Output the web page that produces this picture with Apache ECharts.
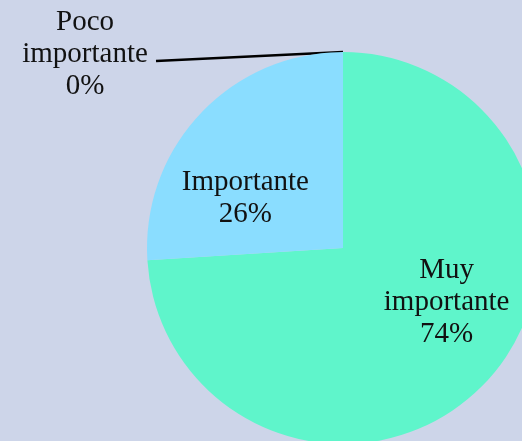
<!DOCTYPE html>
<html>
<head>
<meta charset="utf-8">
<script src="https://cdn.jsdelivr.net/npm/echarts@6/dist/echarts.min.js"></script>
<style>
  html, body { margin: 0; padding: 0; background: #cdd5e9; }
  #chart { width: 522px; height: 441px; }
</style>
</head>
<body>
<div id="chart"></div>
<script>
// datos del gráfico
var categorias = ['Muy importante', 'Importante', 'Poco importante']
var valores = [74, 26, 0]
var colores = ['#5ff5cb', '#8addff', '#8addff']

var myChart = echarts.init(document.getElementById('chart'))

var datos = categorias.map(function (nombre, i) {
  var item = { name: nombre, value: valores[i], itemStyle: { color: colores[i] } }
  if (valores[i] === 0) {
    item.label = { position: 'outside' }
    item.labelLine = { show: true }
  }
  return item
})

myChart.setOption({
  backgroundColor: '#cdd5e9',
  animation: false,
  series: [
    {
      type: 'pie',
      center: [343, 248],
      radius: 196,
      startAngle: 90,
      clockwise: true,
      avoidLabelOverlap: false,
      label: {
        show: true,
        position: 'inside',
        color: '#111',
        fontFamily: 'Liberation Serif',
        fontSize: 29,
        lineHeight: 32,
        align: 'center',
        formatter: function (p) {
          return p.name.replace(' ', '\n') + '\n' + p.value + '%'
        }
      },
      labelLine: {
        show: false,
        lineStyle: { color: '#000', width: 2.5 }
      },
      labelLayout: function (params) {
        if (params.dataIndex === 0) {
          return { dx: 30, dy: -15 }
        }
        if (params.dataIndex === 1) {
          return { dx: -24, dy: 20 }
        }
        var pts = params.labelLinePoints
        var inicio = pts ? pts[0] : [343, 52]
        return {
          x: 85,
          y: 54,
          align: 'center',
          verticalAlign: 'middle',
          labelLinePoints: [inicio, [156, 61], [156, 61]]
        }
      },
      data: datos
    }
  ]
})
</script>
</body>
</html>
